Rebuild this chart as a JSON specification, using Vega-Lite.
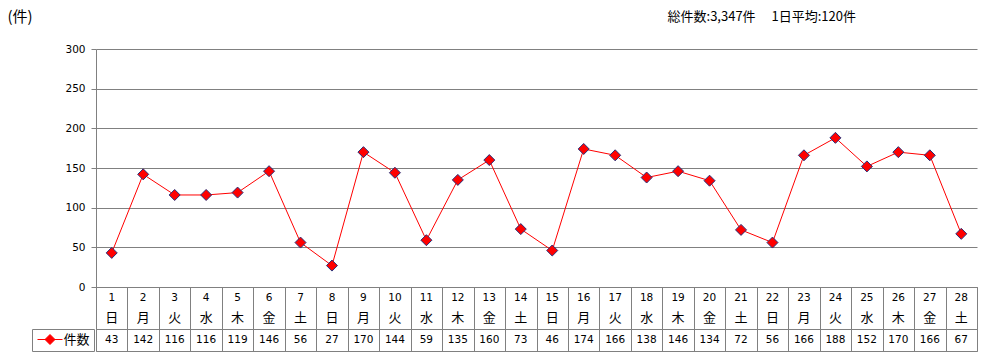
{
  "$schema": "https://vega.github.io/schema/vega-lite/v6.json",
  "padding": {"left": 7, "top": 9, "right": 0, "bottom": 0},
  "background": "white",
  "data": {"values": [
    {"day": 1, "wd": "日", "n": 43},
    {"day": 2, "wd": "月", "n": 142},
    {"day": 3, "wd": "火", "n": 116},
    {"day": 4, "wd": "水", "n": 116},
    {"day": 5, "wd": "木", "n": 119},
    {"day": 6, "wd": "金", "n": 146},
    {"day": 7, "wd": "土", "n": 56},
    {"day": 8, "wd": "日", "n": 27},
    {"day": 9, "wd": "月", "n": 170},
    {"day": 10, "wd": "火", "n": 144},
    {"day": 11, "wd": "水", "n": 59},
    {"day": 12, "wd": "木", "n": 135},
    {"day": 13, "wd": "金", "n": 160},
    {"day": 14, "wd": "土", "n": 73},
    {"day": 15, "wd": "日", "n": 46},
    {"day": 16, "wd": "月", "n": 174},
    {"day": 17, "wd": "火", "n": 166},
    {"day": 18, "wd": "水", "n": 138},
    {"day": 19, "wd": "木", "n": 146},
    {"day": 20, "wd": "金", "n": 134},
    {"day": 21, "wd": "土", "n": 72},
    {"day": 22, "wd": "日", "n": 56},
    {"day": 23, "wd": "月", "n": 166},
    {"day": 24, "wd": "火", "n": 188},
    {"day": 25, "wd": "水", "n": 152},
    {"day": 26, "wd": "木", "n": 170},
    {"day": 27, "wd": "金", "n": 166},
    {"day": 28, "wd": "土", "n": 67}
  ]},
  "spacing": 0,
  "bounds": "flush",
  "config": {
    "view": {"stroke": "#808080", "strokeWidth": 1},
    "font": "Noto Sans CJK JP"
  },
  "vconcat": [
    {
      "width": 881,
      "height": 238,
      "view": {"stroke": null},
      "title": {
        "text": "総件数:3,347件　   1日平均:120件",
        "anchor": "end",
        "frame": "group",
        "dx": -121,
        "dy": 19,
        "font": "Noto Sans CJK JP",
        "fontSize": 13,
        "fontWeight": "normal",
        "color": "black"
      },
      "encoding": {
        "x": {"field": "day", "type": "ordinal", "axis": null, "scale": {"type": "point", "padding": 0.5}},
        "y": {
          "field": "n", "type": "quantitative",
          "scale": {"domain": [0, 300], "nice": false},
          "axis": {
            "values": [0, 50, 100, 150, 200, 250, 300],
            "title": "(件)",
            "titleAngle": 0,
            "titleAlign": "left",
            "titleBaseline": "top",
            "titleX": -89,
            "titleY": -40,
            "titleFont": "Noto Sans CJK JP",
            "titleFontSize": 15,
            "titleFontWeight": "normal",
            "titleColor": "black",
            "labelFont": "DejaVu Sans",
            "labelFontSize": 10.5,
            "labelColor": "black",
            "labelPadding": 6,
            "tickSize": 5,
            "tickColor": "#808080",
            "domainColor": "#808080",
            "gridColor": "#808080",
            "grid": true
          }
        }
      },
      "layer": [
        {
          "mark": {"type": "line", "strokeWidth": 1},
          "encoding": {
            "color": {
              "datum": "件数",
              "scale": {"range": ["#ff0000"]},
              "legend": {
                "orient": "none",
                "legendX": -64,
                "legendY": 280,
                "title": null,
                "strokeColor": "#808080",
                "padding": 4,
                "symbolType": "M-2.5,0H2.5M0,-1L1,0L0,1L-1,0Z",
                "symbolSize": 100,
                "symbolOffset": 7.5,
                "symbolFillColor": "#ff0000",
                "symbolStrokeColor": "#ff0000",
                "symbolStrokeWidth": 1,
                "labelOffset": 7,
                "labelFont": "Noto Sans CJK JP",
                "labelFontSize": 13,
                "labelColor": "black"
              }
            }
          }
        },
        {
          "mark": {"type": "point", "shape": "diamond", "filled": true, "size": 121, "fill": "#ff0000", "stroke": "#26307a", "strokeWidth": 1, "opacity": 1}
        }
      ]
    },
    {
      "width": 881,
      "height": 42,
      "encoding": {
        "x": {
          "field": "day", "type": "ordinal",
          "scale": {"type": "band", "paddingInner": 0, "paddingOuter": 0},
          "axis": {"tickBand": "extent", "grid": true, "gridColor": "#808080", "labels": false, "ticks": false, "domain": false, "title": null}
        }
      },
      "layer": [
        {"mark": {"type": "text", "baseline": "middle", "dy": -10, "font": "DejaVu Sans", "fontSize": 10.5, "color": "black"}, "encoding": {"text": {"field": "day"}}},
        {"mark": {"type": "text", "baseline": "middle", "dy": 9.5, "font": "Noto Sans CJK JP", "fontSize": 13, "color": "black"}, "encoding": {"text": {"field": "wd"}}}
      ]
    },
    {
      "width": 881,
      "height": 22,
      "encoding": {
        "x": {
          "field": "day", "type": "ordinal",
          "scale": {"type": "band", "paddingInner": 0, "paddingOuter": 0},
          "axis": {"tickBand": "extent", "grid": true, "gridColor": "#808080", "labels": false, "ticks": false, "domain": false, "title": null}
        }
      },
      "layer": [
        {"mark": {"type": "text", "baseline": "middle", "font": "DejaVu Sans", "fontSize": 10.5, "color": "black"}, "encoding": {"text": {"field": "n"}}}
      ]
    }
  ]
}
